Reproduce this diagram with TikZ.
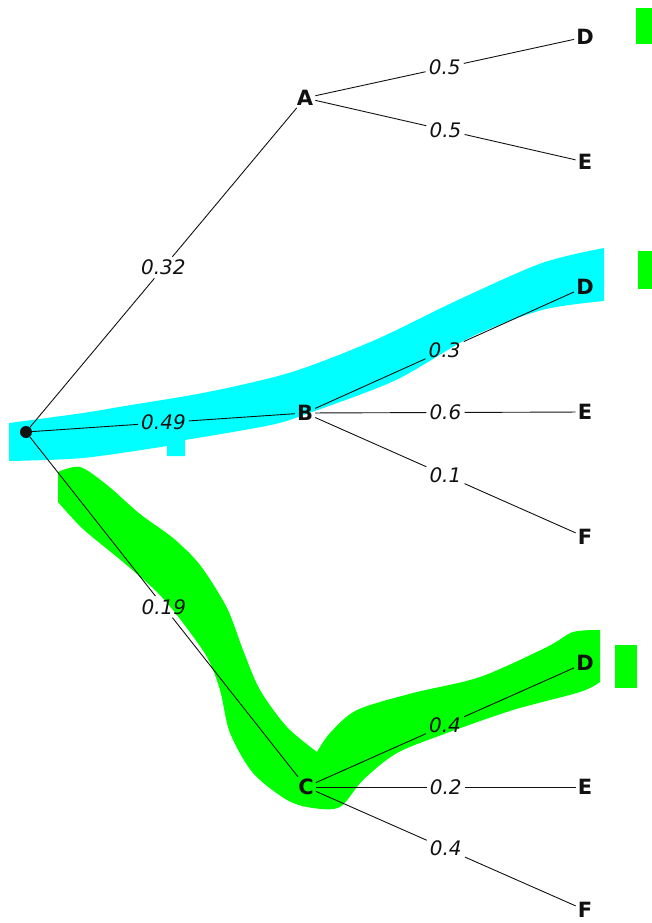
\documentclass[tikz,border=0pt]{standalone}
\usepackage{fontspec}
\setmainfont{DejaVu Sans}
\usepackage{tikz}
\usetikzlibrary{calc}
\definecolor{cHiB}{HTML}{00FFFF}
\definecolor{cHiG}{HTML}{00FF00}
\definecolor{cInk}{HTML}{111111}
\tikzset{
  leaf/.style ={font=\fontsize{21}{24}\selectfont\bfseries,text=cInk,inner sep=2pt},
  prob/.style ={font=\fontsize{20}{24}\selectfont\itshape,text=cInk,inner sep=3pt},
  br/.style   ={line width=0.9pt,cInk},
  rootdot/.style={circle,fill=cInk,inner sep=0pt,minimum size=12pt},
}
% one branch: label sits midway and cuts the line
\newcommand{\tbranch}[3]{%
  \path (#1) -- node[prob] (p#2) {#3} (#2);
  \draw[br] (#1) -- (p#2) -- (#2);}

\begin{document}
\begin{tikzpicture}[x=1pt,y=-1pt]
\useasboundingbox (0,0) rectangle (652,923);

% highlights
\fill[cHiB] plot[smooth] coordinates {(9,423) (83,413) (125,406) (208,392) (292,372)
    (375,340) (458,300) (542,263) (604,248)}
  -- (604,301)
  -- plot[smooth] coordinates {(604,301) (542,310) (471,337) (396,380) (312,412)
    (271,425) (185,440)}
  -- (185,456) -- (167,456) -- (167,446)
  -- plot[smooth] coordinates {(167,446) (83,458) (9,461)} -- cycle;
\fill[cHiG] plot[smooth] coordinates {(58,472) (80,467) (107,485) (140,514) (173,538)
    (200,565) (227,608) (243,650) (260,690) (287,727) (317,752)}
  -- plot[smooth] coordinates {(317,752) (330,733) (357,710) (413,693) (480,677)
    (547,647) (573,632) (600,630)}
  -- (600,682)
  -- plot[smooth] coordinates {(600,682) (580,692) (513,710) (447,733) (397,753)
    (363,780) (340,807) (313,808) (287,800) (253,773) (230,733) (220,690) (207,657)
    (180,619) (157,592) (123,562) (83,529) (58,502)} -- cycle;
\fill[cHiG] (636,8) rectangle (652,44);
\fill[cHiG] (638,251) rectangle (652,289);
\fill[cHiG] (615,645) rectangle (637,688);

% tree
\node[rootdot] (root) at (26,432) {};
\node[leaf] (a) at (305,98) {A};
\node[leaf] (b) at (305,413) {B};
\node[leaf] (c) at (306,787) {C};
\node[leaf] (ad) at (585,37) {D};
\node[leaf] (ae) at (585,162) {E};
\node[leaf] (bd) at (585,287) {D};
\node[leaf] (be) at (585,412) {E};
\node[leaf] (bf) at (585,537) {F};
\node[leaf] (cd) at (585,663) {D};
\node[leaf] (ce) at (585,787) {E};
\node[leaf] (cf) at (585,910) {F};

\tbranch{root}{a}{0.32}
\tbranch{root}{b}{0.49}
\tbranch{root}{c}{0.19}
\tbranch{a}{ad}{0.5}
\tbranch{a}{ae}{0.5}
\tbranch{b}{bd}{0.3}
\tbranch{b}{be}{0.6}
\tbranch{b}{bf}{0.1}
\tbranch{c}{cd}{0.4}
\tbranch{c}{ce}{0.2}
\tbranch{c}{cf}{0.4}
\end{tikzpicture}
\end{document}
